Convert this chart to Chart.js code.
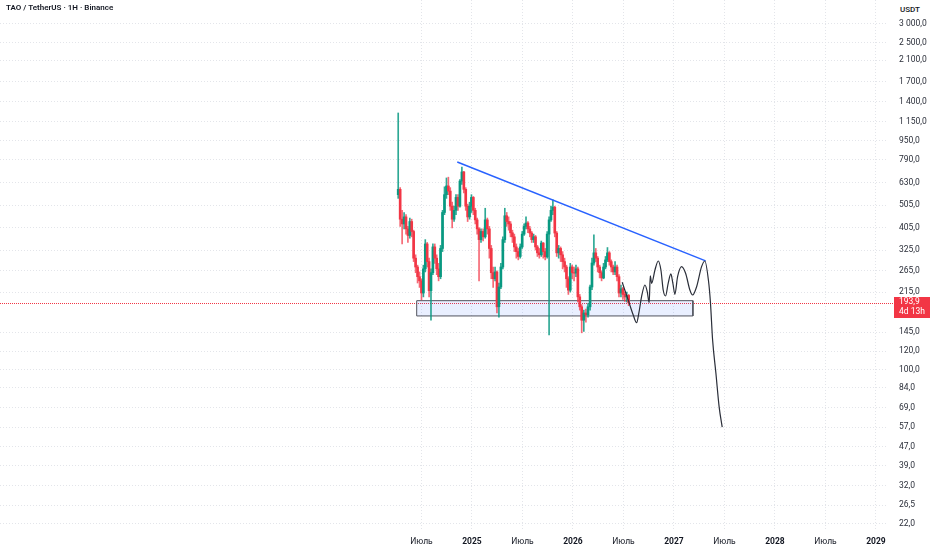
<!DOCTYPE html>
<html><head><meta charset="utf-8">
<script src="https://cdn.jsdelivr.net/npm/chart.js@4.4.1/dist/chart.umd.min.js"></script>
<style>
html,body{margin:0;padding:0;background:#fff;}
#wrap{position:relative;width:932px;height:550px;overflow:hidden;}
#title{position:absolute;left:6px;top:3px;font:600 8px Roboto, sans-serif;color:#131722;white-space:nowrap;}
#unit{position:absolute;left:894px;top:3px;width:32px;height:14px;font:500 8px Roboto, sans-serif;color:#131722;text-align:center;line-height:14px;background:#fff;}
</style></head>
<body><div id="wrap"><canvas id="c" width="932" height="550"></canvas>
<div id="title">TAO / TetherUS · 1H · Binance</div><div id="unit">USDT</div></div>
<script>
// ---- data ----
const weekStart = '2024-04-08';
const firstOpen = 560;
const closes = [590,440,420,450,400,375,430,390,300,275,
250,240,213,270,345,290,218,260,335,300,
270,250,330,470,560,610,580,500,440,480,
545,500,640,700,590,500,450,500,545,480,
437,400,360,390,370,437,400,330,260,245,
262,186,226,275,360,455,430,420,385,370,
335,320,305,335,380,410,424,400,384,360,
370,335,316,310,348,320,304,380,437,480,
495,384,316,330,310,290,275,245,219,275,
260,259,270,205,186,163,175,172,186,226,
286,316,300,275,260,247,275,295,316,290,
275,262,275,250,213,222,210,205,208,193.9];
const highs = [1250,600,480,470,460,410,445,440,395,310,
280,262,245,280,360,350,300,270,345,345,
310,285,340,480,605,660,665,600,520,500,
560,560,650,735,705,600,510,520,560,550,
490,445,405,400,400,490,445,410,340,275,
275,265,235,285,370,490,470,450,430,395,
380,345,330,345,390,420,450,430,410,390,
380,375,340,330,355,350,330,390,450,500,
532,500,390,340,335,320,300,280,250,285,
280,275,280,275,210,190,180,182,192,230,
300,377,330,305,280,265,285,305,333,320,
295,280,290,280,255,230,225,215,215,210];
const lows = [540,410,345,400,380,350,365,370,290,260,
235,225,199,205,262,275,205,163,255,285,
255,240,245,320,460,540,560,480,404,430,
460,480,495,620,570,480,430,440,470,460,
420,380,240,350,355,365,380,300,245,225,
240,175,168,222,270,350,410,395,370,350,
320,300,295,300,330,375,400,385,370,350,
350,325,305,300,305,300,295,300,141,430,
460,370,305,300,290,270,262,225,210,215,
245,240,250,195,180,144,146,160,168,180,
220,280,290,262,247,240,245,270,290,280,
262,255,255,240,205,205,200,196,195,188];

const priceTicks = [3000,2500,2100,1700,1400,1150,950,790,630,505,405,325,265,215,145,120,100,84,69,57,47,39,32,26.5,22];
const timeTicks = [6,12,18,24,30,36,42,48,54,60];   // months since Jan 2024
const timeTickLabels = ['Июль','2025','Июль','2026','Июль','2027','Июль','2028','Июль','2029'];

const trendX = [10.25, 39.76];
const trendY = [772, 292];

const zoneX = [5.43, 38.25];
const zoneTop = 197.5;
const zoneBottom = 170;

const pathX = [29.85,30.56,31.16,31.56,31.83,32.15,32.55,32.82,33.06,33.18,33.35,33.74,34.13,34.45,34.72,35.0,35.31,35.63,35.87,36.11,36.43,36.9,37.38,37.89,38.21,38.69,39.28,39.67,40.09,40.33,40.59,40.98,41.37,41.73];
const pathY = [236.6,198.8,171.5,159,175,205.4,230.4,215.8,193.6,251.8,234.3,267,291.8,267,219.4,206.8,234.3,256.8,234.3,210.3,250,275.9,258.5,219.4,208.9,226.6,275.9,291.8,242.1,195,134.2,97,69.4,57];

const lastPrice = 193.9;
const lastPriceTimer = '4d 13h';

// ---- build ----
const UP = '#089981', DOWN = '#f23645';
const t0 = Date.parse(weekStart + 'T00:00:00Z');
const monthPos = closes.map((_, i) => {
  const d = new Date(t0 + i * 7 * 86400000);
  const y = d.getUTCFullYear(), mo = d.getUTCMonth();
  const dim = new Date(Date.UTC(y, mo + 1, 0)).getUTCDate();
  return (y - 2024) * 12 + mo + (d.getUTCDate() - 1) / dim;
});
const opens = closes.map((c, i) => i === 0 ? firstOpen : closes[i - 1]);
const colors = closes.map((c, i) => c >= opens[i] ? UP : DOWN);
const wickColors = closes.map((c, i) => c >= opens[i] ? 'rgba(8,153,129,0.85)' : 'rgba(242,54,69,0.75)');
const wickData = closes.map((c, i) => ({x: monthPos[i], y: [lows[i], highs[i]]}));
const bodyData = closes.map((c, i) => ({x: monthPos[i], y: [Math.min(opens[i], c), Math.max(opens[i], c)]}));

const zoneFill = [{x: zoneX[0], y: zoneTop}, {x: zoneX[1], y: zoneTop}];
const zoneBorder = [{x: zoneX[0], y: zoneTop}, {x: zoneX[1], y: zoneTop}, {x: zoneX[1], y: zoneBottom}, {x: zoneX[0], y: zoneBottom}, {x: zoneX[0], y: zoneTop}];
const trendData = trendX.map((x, i) => ({x, y: trendY[i]}));
const pathData = pathX.map((x, i) => ({x, y: pathY[i]}));

function fmtPrice(v) {
  const s = v.toFixed(1).split('.');
  const int = s[0].replace(/\B(?=(\d{3})+(?!\d))/g, ' ');
  return int + ',' + s[1];
}

const GRID = '#e3e5ea';
const FONT = 'Roboto, "Noto Sans", sans-serif';

const lastPricePlugin = {
  id: 'lastPrice',
  beforeDatasetsDraw(chart) {
    const {ctx, chartArea: a, scales: {y}} = chart;
    const py = Math.round(y.getPixelForValue(lastPrice)) + 0.5;
    ctx.save();
    ctx.strokeStyle = '#f23645'; ctx.lineWidth = 1; ctx.setLineDash([1, 1]);
    ctx.beginPath(); ctx.moveTo(a.left, py); ctx.lineTo(a.right + 6, py); ctx.stroke();
    ctx.restore();
  },
  afterDraw(chart) {
    const {ctx, scales: {y}} = chart;
    const py = y.getPixelForValue(lastPrice);
    ctx.save();
    ctx.fillStyle = DOWN;
    ctx.fillRect(894, Math.round(py) - 6, 36, 21);
    ctx.fillStyle = '#fff';
    ctx.font = '8.5px ' + FONT;
    ctx.textBaseline = 'middle'; ctx.textAlign = 'left';
    ctx.fillText(fmtPrice(lastPrice), 899, py - 0.5);
    ctx.fillText(lastPriceTimer, 899, py + 9);
    ctx.restore();
  }
};

new Chart(document.getElementById('c'), {
  type: 'bar',
  data: {
    datasets: [
      {type: 'line', label: 'zoneFill', data: zoneFill, borderWidth: 0, pointRadius: 0, fill: {value: zoneBottom}, backgroundColor: 'rgba(41,98,255,0.1)', order: 10},
      {type: 'line', label: 'zoneBorder', data: zoneBorder, borderColor: '#50535e', borderWidth: 1, pointRadius: 0, fill: false, tension: 0, order: 9},
      {type: 'bar', label: 'wick', data: wickData, backgroundColor: wickColors, barThickness: 1, grouped: false, borderWidth: 0, order: 6},
      {type: 'bar', label: 'body', data: bodyData, backgroundColor: colors, barThickness: 2, grouped: false, borderWidth: 0, order: 5},
      {type: 'line', label: 'trend', data: trendData, borderColor: '#2962ff', borderWidth: 1.5, pointRadius: 0, fill: false, order: 2},
      {type: 'line', label: 'path', data: pathData, borderColor: '#2a2e39', borderWidth: 1.2, pointRadius: 0, fill: false, cubicInterpolationMode: 'monotone', order: 1}
    ]
  },
  options: {
    responsive: false,
    animation: false,
    devicePixelRatio: 1,
    layout: {padding: 0},
    plugins: {legend: {display: false}, tooltip: {enabled: false}, title: {display: false}},
    scales: {
      x: {
        type: 'linear', min: -44.08, max: 61.43, bounds: 'data', offset: false,
        grid: {color: GRID, offset: false, drawTicks: false, lineWidth: 1},
        border: {display: false, dash: [1, 2]},
        ticks: {
          autoSkip: false, maxRotation: 0, padding: 7, color: '#131722',
          font: (c) => ({family: FONT, size: 8.5, weight: (c.tick && c.tick.value % 12 === 0) ? 'bold' : 'normal'}),
          callback: (v) => { const k = timeTicks.indexOf(v); return k >= 0 ? timeTickLabels[k] : ''; }
        },
        afterBuildTicks: (s) => { s.ticks = timeTicks.map(v => ({value: v})); },
        afterFit: (s) => { s.height = 20; s.paddingLeft = 0; s.paddingRight = 0; }
      },
      y: {
        type: 'logarithmic', position: 'right', min: 20.73, max: 3795, bounds: 'data',
        grid: {color: GRID, drawTicks: false, lineWidth: 1},
        border: {display: false, dash: [1, 2]},
        ticks: {
          autoSkip: false, padding: 11, color: '#2a2e39',
          font: {family: FONT, size: 8.5},
          callback: (v) => fmtPrice(v)
        },
        afterBuildTicks: (s) => { s.ticks = priceTicks.map(v => ({value: v})); },
        afterFit: (s) => { s.width = 44; s.paddingTop = 0; s.paddingBottom = 0; }
      }
    }
  },
  plugins: [lastPricePlugin]
});
</script>
</body></html>
